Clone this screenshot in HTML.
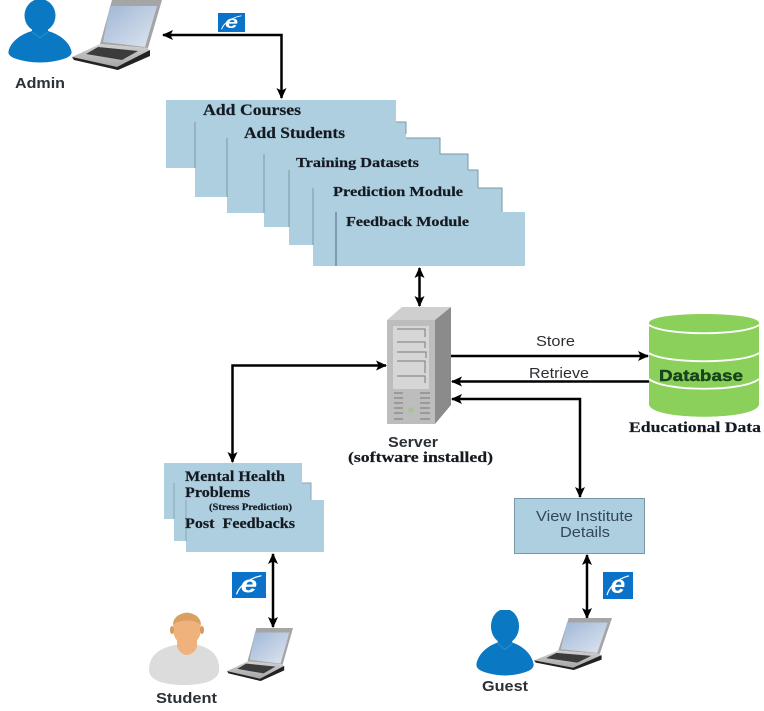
<!DOCTYPE html>
<html><head><meta charset="utf-8">
<style>
html,body{margin:0;padding:0;background:#fff}
svg{display:block;filter:blur(.35px)}
.s{font-family:"Liberation Serif",serif;font-weight:bold;fill:#151a22;stroke:#151a22;stroke-width:.2}
.a{font-family:"Liberation Sans",sans-serif;fill:#2b2f33}
.b{font-family:"Liberation Sans",sans-serif;font-weight:bold;fill:#2c3136}
</style></head><body>
<svg width="764" height="711" viewBox="0 0 764 711" xmlns="http://www.w3.org/2000/svg">
<defs>
<marker id="ah" markerUnits="userSpaceOnUse" markerWidth="12" markerHeight="12" refX="10" refY="6" orient="auto-start-reverse"><path d="M0 1L11 6L0 11L2.500 6Z" fill="#000"/></marker>
<linearGradient id="scr" x1="0" y1="0" x2="1" y2="1"><stop offset="0" stop-color="#9fb6d6"/><stop offset="1" stop-color="#dfe6f0"/></linearGradient>
<linearGradient id="lap" x1="0" y1="0" x2="0" y2="1"><stop offset="0" stop-color="#d0d0d0"/><stop offset="1" stop-color="#a0a0a0"/></linearGradient>
<symbol id="laptop" viewBox="0 0 90 70" preserveAspectRatio="none">
<path d="M40 0L90 0L76 48L28 44Z" fill="#a5a5a5"/>
<path d="M38 6L85 6L73 47L31 42Z" fill="url(#scr)"/>
<path d="M28 44L76 48L78 53L45 70L0 57Z" fill="url(#lap)"/>
<path d="M26 47L66 51L50 60L14 54Z" fill="#3b3b3b"/>
<path d="M0 57L45 67L78 50L78 56L46 70L2 60Z" fill="#222"/>
</symbol>
<symbol id="person" viewBox="0 0 64 66" preserveAspectRatio="none">
<ellipse cx="32" cy="16" rx="15.500" ry="17" fill="#0a78c2"/>
<path d="M24 27H40V32C50 35 61 42 63.500 53C64 56 62 58 58 60C42 66 22 66 6 60C2 58 0 56 .5 53C3 42 14 35 24 32Z" fill="#0a78c2"/>
<path d="M24 33L32 39L40 33" fill="none" stroke="#2d8fd0" stroke-width="1"/>
</symbol>
<symbol id="ie" viewBox="0 0 30 28" preserveAspectRatio="none">
<rect width="30" height="28" fill="#0a72c8"/>
<text x="15" y="22" text-anchor="middle" font-family="Liberation Sans" font-weight="bold" font-style="italic" font-size="26" fill="#fff">e</text>
<path d="M4 24C6 16 14 7 26 4" fill="none" stroke="#fff" stroke-width="1.200"/>
</symbol>
</defs>

<!-- Admin -->
<use href="#person" x="8" y="0" width="64" height="64"/>
<use href="#laptop" x="72" y="0" width="90" height="70"/>
<text x="15" y="88" class="b" font-size="15" textLength="50" lengthAdjust="spacingAndGlyphs">Admin</text>
<use href="#ie" x="218" y="13" width="27" height="19"/>
<path d="M163 35H281.500V98" fill="none" stroke="#000" stroke-width="2.500" marker-start="url(#ah)" marker-end="url(#ah)"/>

<!-- Stack of module pages -->
<g fill="#aecfdf">
<rect x="166" y="100" width="230" height="68"/>
<rect x="195" y="122" width="211" height="75"/>
<rect x="227" y="138" width="213" height="75"/>
<rect x="264" y="154" width="204" height="73"/>
<rect x="289" y="170" width="189" height="75"/>
<rect x="313" y="188" width="189" height="78"/>
<rect x="336" y="212" width="189" height="54"/>
</g>
<g fill="none" stroke="#7a97a7" stroke-width="1">
<path d="M195 168V122"/><path d="M396 122H406V134"/>
<path d="M227 197V138"/><path d="M406 138H440V154"/>
<path d="M264 213V154"/><path d="M440 154H468V170"/>
<path d="M289 227V170"/><path d="M468 170H478V188"/>
<path d="M313 245V188"/><path d="M478 188H502V212"/>
<path d="M336 266V212" stroke="#4f6b7a"/>
</g>
<text x="203" y="115" class="s" font-size="15.500" textLength="98" lengthAdjust="spacingAndGlyphs">Add Courses</text>
<text x="244" y="138" class="s" font-size="15.500" textLength="101" lengthAdjust="spacingAndGlyphs">Add Students</text>
<text x="296" y="167" class="s" font-size="14" textLength="123" lengthAdjust="spacingAndGlyphs">Training Datasets</text>
<text x="333" y="196" class="s" font-size="14" textLength="130" lengthAdjust="spacingAndGlyphs">Prediction Module</text>
<text x="346" y="226" class="s" font-size="14" textLength="123" lengthAdjust="spacingAndGlyphs">Feedback Module</text>
<path d="M419.500 268V306" fill="none" stroke="#000" stroke-width="2.500" marker-start="url(#ah)" marker-end="url(#ah)"/>

<!-- Server -->
<path d="M387 320L402 307H451L435 320Z" fill="#cfcfcf"/>
<path d="M435 320L451 307V405L435 424Z" fill="#8b8b8b"/>
<rect x="387" y="320" width="48" height="104" fill="#bdbdbd"/>
<rect x="393" y="326" width="36" height="63" fill="#d6d6d6"/>
<g fill="none" stroke="#7a7a7a" stroke-width="1">
<path d="M397 329H425V337M397 342H425V348M397 352H426V358M397 361H425V373M397 376H425V383"/>
</g>
<g stroke="#777" stroke-width="1"><path d="M394 393H403M420 393H430M394 398H403M420 398H430M394 403H403M420 403H430M394 408H403M420 408H430M394 413H403M420 413H430M394 419H403M420 419H430"/></g>
<circle cx="411" cy="410" r="3" fill="#a9c29a"/>
<text x="388" y="447" class="b" font-size="14.500" textLength="50" lengthAdjust="spacingAndGlyphs">Server</text>
<text x="348" y="462" class="s" font-size="15" textLength="145" lengthAdjust="spacingAndGlyphs">(software installed)</text>

<!-- Database -->
<path d="M649 323C649 311 759 311 759 323V404C759 421 649 421 649 404Z" fill="#8cd05c"/>
<path d="M649 325C665 336 743 336 759 325M649 353C665 364 743 364 759 353M649 379C665 392 743 392 759 379" fill="none" stroke="#fff" stroke-width="1.800"/>
<text x="659" y="381" class="b" font-size="15.500" textLength="84" lengthAdjust="spacingAndGlyphs" style="fill:#17451c;font-weight:bold;stroke:#17451c;stroke-width:.4">Database</text>
<text x="629" y="432" class="s" font-size="15" textLength="132" lengthAdjust="spacingAndGlyphs">Educational Data</text>

<path d="M451 356H648" fill="none" stroke="#000" stroke-width="2.500" marker-end="url(#ah)"/>
<path d="M649 381.500H452" fill="none" stroke="#000" stroke-width="2.500" marker-end="url(#ah)"/>
<text x="536" y="346" class="a" font-size="14.500" textLength="39" lengthAdjust="spacingAndGlyphs">Store</text>
<text x="529" y="378" class="a" font-size="14.500" textLength="60" lengthAdjust="spacingAndGlyphs">Retrieve</text>
<path d="M452 399H580V497" fill="none" stroke="#000" stroke-width="2.500" marker-start="url(#ah)" marker-end="url(#ah)"/>
<path d="M232.500 462V365.500H386" fill="none" stroke="#000" stroke-width="2.500" marker-start="url(#ah)" marker-end="url(#ah)"/>

<!-- Student pages -->
<g fill="#aecfdf">
<rect x="164" y="463" width="138" height="56"/>
<rect x="174" y="483" width="137" height="58"/>
<rect x="186" y="500" width="138" height="52"/>
</g>
<path d="M174 519V483M302 483H311V500M186 541V500" fill="none" stroke="#8aa7b6" stroke-width="1"/>
<text x="185" y="481" class="s" font-size="14.500" textLength="100" lengthAdjust="spacingAndGlyphs">Mental Health</text>
<text x="185" y="497" class="s" font-size="14.500" textLength="65" lengthAdjust="spacingAndGlyphs">Problems</text>
<text x="209" y="510" class="s" font-size="9.500" textLength="83" lengthAdjust="spacingAndGlyphs">(Stress Prediction)</text>
<text x="185" y="528" class="s" font-size="14.500" textLength="110" lengthAdjust="spacingAndGlyphs" xml:space="preserve">Post  Feedbacks</text>
<use href="#ie" x="232" y="572" width="34" height="26"/>
<path d="M273 554V627" fill="none" stroke="#000" stroke-width="2.500" marker-start="url(#ah)" marker-end="url(#ah)"/>
<!-- Student -->
<path d="M149 670C149 655 160 648 175 645H198C210 648 220 655 219 670C219 680 205 685 184 685C163 685 149 680 149 670Z" fill="#dcdcdc"/>
<path d="M177 640H197V646C196 652 190 655 187 655C184 655 178 652 177 646Z" fill="#efb27c"/>
<ellipse cx="187" cy="629" rx="14" ry="16.500" fill="#efb27c"/>
<ellipse cx="172" cy="630" rx="2" ry="4" fill="#d59a63"/><ellipse cx="202" cy="630" rx="2" ry="4" fill="#d59a63"/>
<path d="M173 625C173 609 201 609 201 625C195 619 179 619 173 625Z" fill="#d9a062"/>
<use href="#laptop" x="227" y="628" width="66" height="53"/>
<text x="156" y="703" class="b" font-size="15" textLength="61" lengthAdjust="spacingAndGlyphs">Student</text>

<!-- Guest -->
<rect x="514.500" y="498.500" width="130" height="55" fill="#aecfdf" stroke="#7c97a6"/>
<text x="536" y="521" class="a" font-size="15" textLength="97" lengthAdjust="spacingAndGlyphs" style="fill:#33475a">View Institute</text>
<text x="560" y="537" class="a" font-size="15" textLength="50" lengthAdjust="spacingAndGlyphs" style="fill:#33475a">Details</text>
<path d="M587 555V618" fill="none" stroke="#000" stroke-width="2.500" marker-start="url(#ah)" marker-end="url(#ah)"/>
<use href="#ie" x="603" y="572" width="30" height="27"/>
<use href="#person" x="476" y="610" width="58" height="67"/>
<use href="#laptop" x="534" y="618" width="78" height="52"/>
<text x="482" y="691" class="b" font-size="15" textLength="46" lengthAdjust="spacingAndGlyphs">Guest</text>
</svg>
</body></html>
